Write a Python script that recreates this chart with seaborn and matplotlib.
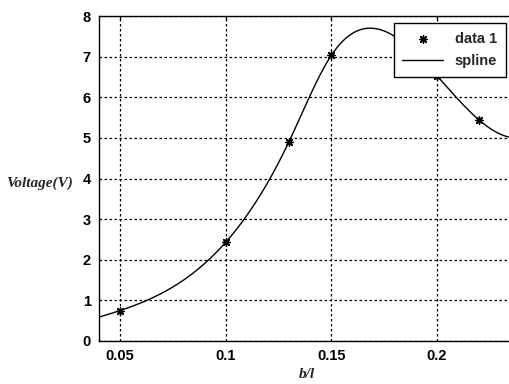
import numpy as np
import pandas as pd
import seaborn as sns
import matplotlib
matplotlib.use("Agg")
import matplotlib.pyplot as plt
from matplotlib.ticker import FixedLocator

# measured points
b_over_l = [0.05, 0.10, 0.13, 0.15, 0.20, 0.22]
voltage = [0.75, 2.43, 4.91, 7.03, 6.53, 5.44]

x_ticks = [0.05, 0.1, 0.15, 0.2]
x_tick_labels = ["0.05", "0.1", "0.15", "0.2"]
y_ticks = [0, 1, 2, 3, 4, 5, 6, 7, 8]
x_range = (0.04, 0.237)
y_range = (0, 8)


def not_a_knot_spline(xk, yk, xs):
    """Cubic spline with not-a-knot end conditions, evaluated (and extrapolated) at xs."""
    xk = np.asarray(xk, float)
    yk = np.asarray(yk, float)
    n = len(xk)
    h = np.diff(xk)
    A = np.zeros((n, n))
    r = np.zeros(n)
    # third-derivative continuity at the second and second-to-last knots
    A[0, 0], A[0, 1], A[0, 2] = -1 / h[0], 1 / h[0] + 1 / h[1], -1 / h[1]
    A[-1, -3], A[-1, -2], A[-1, -1] = -1 / h[-2], 1 / h[-2] + 1 / h[-1], -1 / h[-1]
    for i in range(1, n - 1):
        A[i, i - 1] = h[i - 1]
        A[i, i] = 2 * (h[i - 1] + h[i])
        A[i, i + 1] = h[i]
        r[i] = 6 * ((yk[i + 1] - yk[i]) / h[i] - (yk[i] - yk[i - 1]) / h[i - 1])
    M = np.linalg.solve(A, r)
    idx = np.clip(np.searchsorted(xk, xs) - 1, 0, n - 2)
    x0, x1 = xk[idx], xk[idx + 1]
    hh = x1 - x0
    return (M[idx] * (x1 - xs) ** 3 / (6 * hh)
            + M[idx + 1] * (xs - x0) ** 3 / (6 * hh)
            + (yk[idx] / hh - M[idx] * hh / 6) * (x1 - xs)
            + (yk[idx + 1] / hh - M[idx + 1] * hh / 6) * (xs - x0))


xs = np.linspace(x_range[0], x_range[1], 400)
curve = pd.DataFrame({"b/l": xs, "V": not_a_knot_spline(b_over_l, voltage, xs)})
points = pd.DataFrame({"b/l": b_over_l, "V": voltage})

sns.set_theme(style="white")
plt.rcParams["font.family"] = ["Liberation Sans", "DejaVu Sans"]

fig = plt.figure(figsize=(5.10, 3.84), dpi=100)
W, H = 510, 384
left, right, top, bottom = 99, 515, 16, 341
ax = fig.add_axes([left / W, 1 - bottom / H, (right - left) / W, (bottom - top) / H])

sns.lineplot(data=curve, x="b/l", y="V", ax=ax, color="black", linewidth=1.0,
             label="spline", legend=False)
sns.scatterplot(data=points, x="b/l", y="V", ax=ax, marker=(8, 2, 0), s=30,
                color="black", edgecolor="black", linewidth=1.0,
                label="data 1", legend=False, zorder=5)

ax.set_xlim(*x_range)
ax.set_ylim(*y_range)
ax.xaxis.set_major_locator(FixedLocator(x_ticks))
ax.set_xticklabels(x_tick_labels)
ax.yaxis.set_major_locator(FixedLocator(y_ticks))

ax.grid(True, color="black", linestyle=(0, (2, 2)), linewidth=0.9)
for s in ax.spines.values():
    s.set_color("black")
    s.set_linewidth(1.0)
ax.tick_params(direction="in", length=3, width=0.9, colors="black",
               top=True, right=True, labelsize=10.5, pad=6)
for lab in ax.get_xticklabels() + ax.get_yticklabels():
    lab.set_fontweight("bold")

ax.set_xlabel("b/l", fontfamily="Liberation Serif", fontstyle="italic",
              fontweight="bold", fontsize=11, va="center")
ax.xaxis.set_label_coords(0.5, -0.103)
ax.set_ylabel("Voltage(V)", fontfamily="Liberation Serif", fontstyle="italic",
              fontweight="bold", fontsize=11, rotation=0, ha="right", va="center")
ax.yaxis.set_label_coords(-0.0625, 0.486)

handles, labels = ax.get_legend_handles_labels()
order = [labels.index("data 1"), labels.index("spline")]
leg = ax.legend([handles[i] for i in order], [labels[i] for i in order],
                loc="upper right", bbox_to_anchor=(506 / W, 1 - 23 / H),
                bbox_transform=fig.transFigure, frameon=True, fancybox=False,
                framealpha=1, edgecolor="black", handlelength=2.8,
                handletextpad=0.8, borderpad=0.6, borderaxespad=0,
                labelspacing=0.6, prop={"weight": "bold", "size": 10.5})
leg.get_frame().set_linewidth(1.0)

fig.savefig("out.png", dpi=100)
